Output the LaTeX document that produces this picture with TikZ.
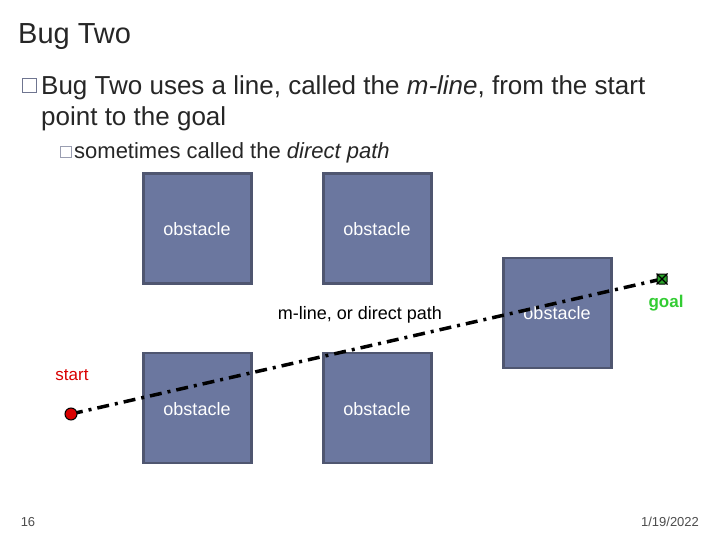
\documentclass[tikz,border=0pt]{standalone}
\usepackage{fontspec}
\setmainfont{Liberation Sans}
\definecolor{obs}{HTML}{6B779F}
\definecolor{obsb}{HTML}{4F5670}
\definecolor{bul}{HTML}{6F7590}
\definecolor{gr}{HTML}{33CC33}
\tikzset{x=1pt,y=-1pt,
 obstacle/.style={draw=obsb,line width=2.5pt,fill=obs,minimum width=108pt,minimum height=110pt,inner sep=0},
 otext/.style={text=white,font=\fontsize{18}{20}\selectfont},
 txt/.style={anchor=base west,inner sep=0,font=\fontsize{26}{30}\selectfont,text=black!85}}
\begin{document}
\begin{tikzpicture}
\useasboundingbox (0,0) rectangle (720,540);
\node[txt,font=\fontsize{29}{32}\selectfont] (title) at (18,44) {Bug Two};
\node[draw=bul,line width=1pt,minimum size=14pt,inner sep=0] (b1) at (29,86) {};
\node[txt] (l1) at (41,95) {Bug Two uses a line, called the \textit{m-line}, from the start};
\node[txt] (l2) at (41,126) {point to the goal};
\node[draw=bul!70,line width=0.8pt,minimum size=11pt,inner sep=0] (b2) at (66,152) {};
\node[txt,font=\fontsize{22}{26}\selectfont] (l3) at (74,159) {sometimes called the \textit{direct path}};
\node[obstacle] (o1) at (197.5,228.5) {};
\node[obstacle] (o2) at (377.5,228.5) {};
\node[obstacle] (o3) at (557.5,313) {};
\node[obstacle] (o4) at (197.5,408) {};
\node[obstacle] (o5) at (377.5,408) {};
\node[otext] (t1) at (197,229) {obstacle};
\node[otext] (t2) at (377,229) {obstacle};
\node[otext] (t3) at (557,313) {obstacle};
\node[otext] (t4) at (197,409) {obstacle};
\node[otext] (t5) at (377,409) {obstacle};
\node[font=\fontsize{18}{20}\selectfont] (ml) at (360,315) {m-line, or direct path};
\coordinate (s) at (71,414);
\coordinate (g) at (662,279);
\draw[line width=3.5pt,dash pattern=on 12pt off 6pt on 3pt off 6pt] (s) -- (g);
\node[circle,draw=black,fill=red!85!black,line width=1pt,minimum size=12pt,inner sep=0] (sc) at (s) {};
\node[draw=black,fill=gr!80!black,line width=1pt,minimum size=10pt,inner sep=0,rounded corners=2pt] (gc) at (g) {};
\draw[line width=1.3pt] (gc.north west) -- (gc.south east) (gc.north east) -- (gc.south west);
\node[text=red!85!black,font=\fontsize{17}{19}\selectfont] (st) at (72,375) {start};
\node[text=gr,font=\bfseries\fontsize{17}{19}\selectfont] (gl) at (666,303) {goal};
\node[text=black!70,font=\fontsize{13}{15}\selectfont] (pg) at (28,522) {16};
\node[text=black!70,font=\fontsize{13}{15}\selectfont] (dt) at (670,522) {1/19/2022};
\end{tikzpicture}
\end{document}
